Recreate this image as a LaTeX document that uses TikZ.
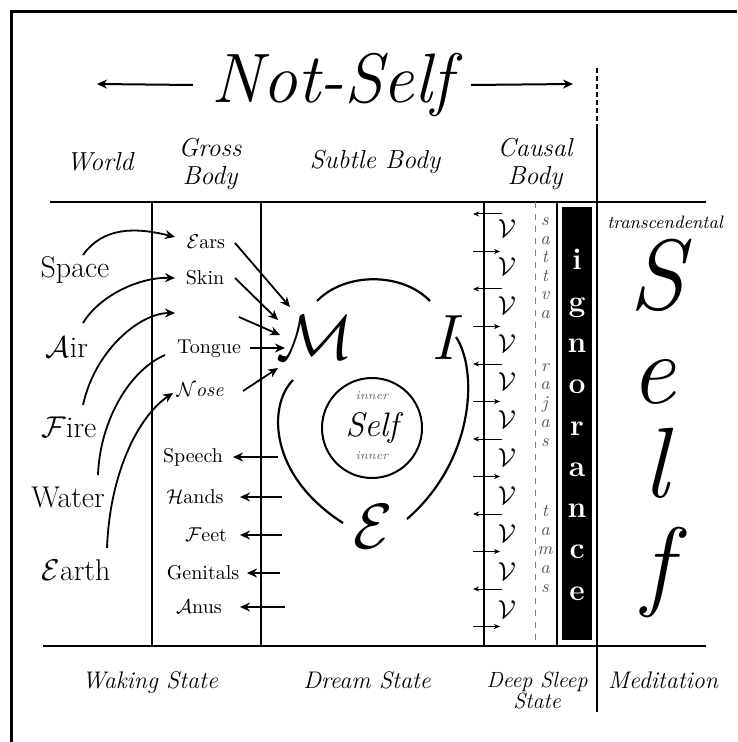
\RequirePackage{fix-cm}
\documentclass[tikz,border=0pt]{standalone}
\usepackage{amsmath,amssymb}
\usepackage{tikz}
\usetikzlibrary{calc, arrows.meta}

\newcommand{\fsz}[2]{\fontsize{#1}{#2}\selectfont}

\begin{document}
\begin{tikzpicture}[
  x=0.5pt, y=-0.5pt,
  >={Stealth[length=5pt,width=4.5pt]},
  every node/.style={inner sep=1pt},
  rule/.style={line width=1.4pt},
  colline/.style={line width=1pt},
  title/.style={font=\fsz{35}{38}\itshape},
  colhead/.style={font=\fsz{13}{14}\itshape, align=center},
  statelabel/.style={font=\fsz{12}{10.5}\itshape, align=center},
  element/.style={font=\fsz{15}{15}},
  organ/.style={font=\fsz{10}{10}},
  faculty/.style={font=\fsz{32}{32}, inner sep=0pt},
  sheath/.style={line width=1.1pt},
  vrtti/.style={font=\fsz{13}{13}},
  guna/.style={font=\fsz{9}{9}\itshape, text=black!65, anchor=base},
  ignor/.style={font=\fsz{15}{15}\bfseries, text=white, anchor=base},
  bigself/.style={font=\fsz{50}{50}\itshape, anchor=base, inner sep=0pt},
  feed/.style={->, line width=0.9pt},
  tick/.style={->, line width=0.5pt, >={Stealth[length=3pt,width=2.5pt]}}
]
\useasboundingbox (0,0) rectangle (737,742);

% --- Frame ---
\draw[line width=1.5pt] (11,742) -- (11,12) -- (737,12);

% --- Title ---
\node[title] (notself) at (332,85) {Not-Self};
\coordinate (leftend) at (97,84);
\coordinate (rightend) at (573,84);
\draw[->, line width=1pt] ($(notself.west)+(-16,0)$) -- (leftend);
\draw[->, line width=1pt] ($(notself.east)+(16,0)$) -- (rightend);

% --- Grid ---
\draw[line width=1.2pt, dash pattern=on 2.5pt off 1.5pt] (597,68) -- (597,128);
\draw[colline] (597,128) -- (597,712);
\draw[rule] (50,202) -- (706,202);
\draw[rule] (43,646) -- (706,646);
\foreach \x in {152,261,484,557}
  \draw[colline] (\x,202) -- (\x,646);
\draw[gray, dashed, line width=0.5pt] (535,202) -- (535,646);
\fill (562,207) rectangle (592,640);

% --- Column heads ---
\node[colhead] (world) at (100,162) {World};
\node[colhead] (gross) at (210,164) {Gross\\Body};
\node[colhead] (subtle) at (375,162) {Subtle Body};
\node[colhead] (causal) at (535,164) {Causal\\Body};

% --- States ---
\node[statelabel] (waking) at (150,682) {Waking State};
\node[statelabel] (dream) at (367,680) {Dream State};
\node[statelabel, font=\fsz{11}{10.5}\itshape] (deep) at (537,690) {Deep Sleep\\State};
\node[statelabel] (medit) at (663,680) {Meditation};

% --- Elements ---
\node[element] (space) at (75,270) {Space};
\node[element] (air) at (67,347) {$\mathcal{A}$ir};
\node[element] (fire) at (69,427) {$\mathcal{F}$ire};
\node[element] (water) at (68,497) {Water};
\node[element] (earth) at (76,570) {$\mathcal{E}$arth};

% --- Senses and organs of action ---
\node[organ] (ears) at (206,242) {$\mathcal{E}$ars};
\node[organ] (skin) at (205,278) {Skin};
\coordinate (eyes) at (209,314);
\node[organ] (tongue) at (209,349) {Tongue};
\node[organ] (nose) at (200,390) {\itshape$\mathcal{N}$ose};
\node[organ] (speech) at (193,457) {Speech};
\node[organ] (hands) at (195,497) {$\mathcal{H}$ands};
\node[organ] (feet) at (206,535) {$\mathcal{F}$eet};
\node[organ] (genitals) at (203,573) {Genitals};
\node[organ] (anus) at (199,607) {$\mathcal{A}$nus};

\draw[feed] ($(space)+(8,-15)$) .. controls +(20,-28) and +(-40,-10) .. ($(ears)+(-31,-5)$);
\draw[feed] ($(air)+(16,-24)$) .. controls +(17,-28) and +(-35,-1) .. ($(skin)+(-30,0)$);
\draw[feed] ($(fire)+(14,-22)$) .. controls +(12,-55) and +(-35,0) .. ($(eyes)+(-34,-1)$);
\draw[line width=0.9pt] ($(water)+(30,-22)$) .. controls +(2,-55) and +(-35,15) .. ($(tongue)+(-44,6)$);
\draw[feed] ($(earth)+(31,-22)$) .. controls +(3,-78) and +(-33,22) .. ($(nose)+(-27,3)$);

% --- Mind, intellect, ego ---
\node[faculty] (mind) at (315,338) {$\mathcal{M}$};
\node[faculty, font=\fsz{32}{32}\itshape] (intel) at (444,338) {I};
\node[faculty] (ego) at (373,527) {$\mathcal{E}$};

\draw[sheath] ($(mind)+(2,-37)$) .. controls +(28,-29) and +(-28,-29) .. ($(intel)+(-14,-37)$);
\draw[sheath] ($(mind)+(-22,42)$) .. controls +(-25,25) and +(-75,-48) .. ($(ego)+(-30,-4)$);
\draw[sheath] ($(intel)+(12,-1)$) .. controls +(22,33) and +(68,-59) .. ($(ego)+(34,-8)$);

\draw[feed] ($(ears)+(29,1)$) -- ($(mind)+(-25,-31)$);
\draw[feed] ($(skin)+(30,0)$) -- ($(mind)+(-37,-18)$);
\draw[feed] ($(eyes)+(30,3)$) -- ($(mind)+(-35,-3)$);
\draw[feed] ($(tongue)+(41,-1)$) -- ($(mind)+(-30,10)$);
\draw[feed] ($(nose)+(43,1)$) -- ($(mind)+(-37,30)$);

\draw[feed] ($(speech)+(85,0)$) -- ($(speech)+(40,0)$);
\draw[feed] ($(hands)+(87,0)$) -- ($(hands)+(45,0)$);
\draw[feed] ($(feet)+(76,0)$) -- ($(feet)+(34,0)$);
\draw[feed] ($(genitals)+(77,0)$) -- ($(genitals)+(44,0)$);
\draw[feed] ($(anus)+(86,0)$) -- ($(anus)+(41,0)$);

% --- Inner self ---
\node[circle, draw, line width=1pt, minimum size=50pt, inner sep=0pt,
      font=\fsz{17}{17}\itshape] (innerself) at (372,428) {Self};
\node[font=\fsz{6}{6}\itshape, text=black!60] (innertop) at (372,396) {inner};
\node[font=\fsz{6}{6}\itshape, text=black!60] (innerbot) at (372,456) {inner};

% --- Causal body ---
\foreach \k in {0,...,10}
  \node[vrtti] (v\k) at (507,{229+38.1*\k}) {$\mathcal{V}$};
\foreach \y in {214,289,...,589}
  \draw[tick] (502,\y) -- (473,\y);
\foreach \y in {251.5,326.5,...,626.5}
  \draw[tick] (473,\y) -- (500,\y);

\foreach \ch [count=\i] in {s,a,t,t,v,a}
  \node[guna] (sat\i) at (545,{207.5+18.5*\i}) {\ch};
\foreach \ch [count=\i] in {r,a,j,a,s}
  \node[guna] (raj\i) at (545,{352.25+18.75*\i}) {\ch};
\foreach \ch [count=\i] in {t,a,m,a,s}
  \node[guna] (tam\i) at (545,{497+19*\i}) {\ch};

\foreach \ch [count=\i] in {i,g,n,o,r,a,n,c,e}
  \node[ignor] (ig\i) at (577,{228.75+41.25*\i}) {\ch};

% --- Transcendental Self ---
\node[font=\fsz{9}{9}\itshape] (transc) at (665,222) {transcendental};
\node[bigself] (bigS) at (657,310) {S};
\node[bigself] (bige) at (653,403) {e};
\node[bigself] (bigl) at (656,497) {l};
\node[bigself] (bigf) at (657,597) {f};

\end{tikzpicture}
\end{document}
